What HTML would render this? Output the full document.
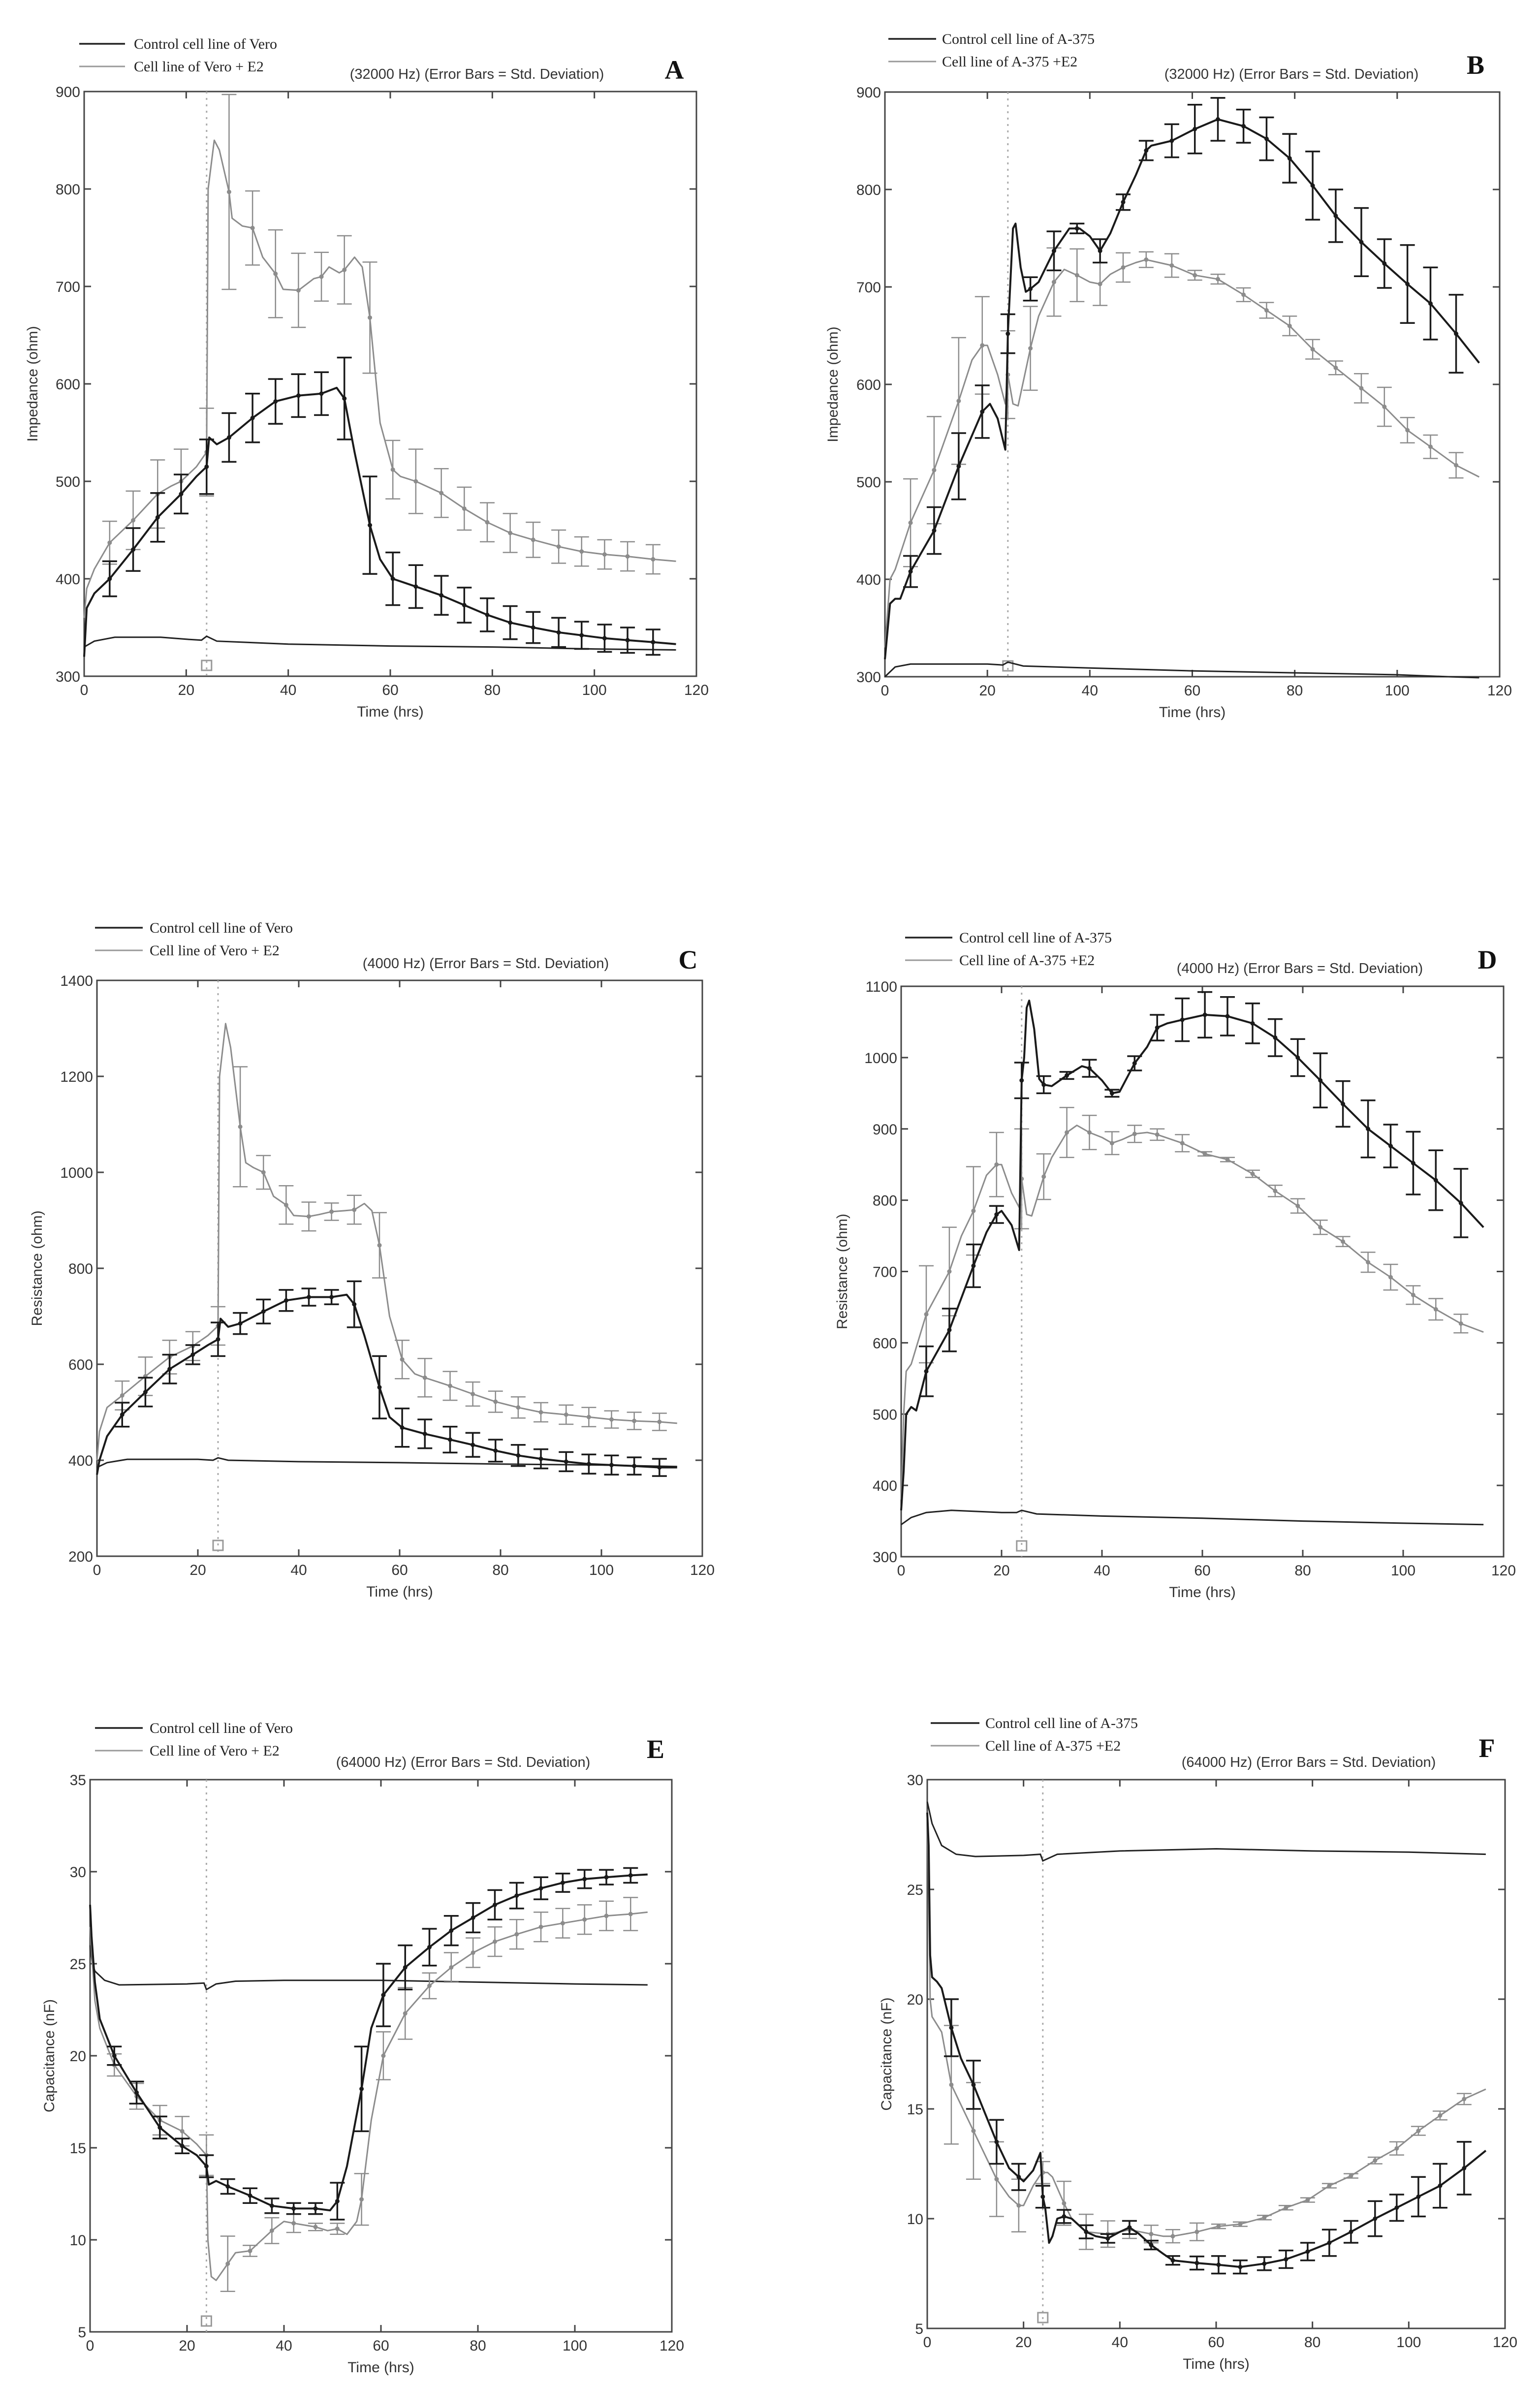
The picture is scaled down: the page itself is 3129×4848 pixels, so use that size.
<!DOCTYPE html>
<html><head><meta charset="utf-8"><title>Impedance, resistance and capacitance charts</title>
<style>
html,body{margin:0;padding:0;background:#fff;}
svg{display:block;}
.tick{font-family:"Liberation Sans",sans-serif;font-size:30px;fill:#333;}
.leg{font-family:"Liberation Serif",serif;font-size:30px;fill:#222;}
.ttl{font-family:"Liberation Sans",sans-serif;font-size:29px;fill:#333;}
.lbl{font-family:"Liberation Serif",serif;font-size:54px;font-weight:bold;fill:#111;}
</style></head>
<body>
<svg id="fig" width="3129" height="4848" viewBox="0 0 3129 4848" xmlns="http://www.w3.org/2000/svg"></svg>
<script>
// ---- shared error-bar times (hrs)
const tErr = [5,9.6,14.4,19,24,28.4,33,37.5,42,46.5,51,56,60.5,65,70,74.5,79,83.5,88,93,97.5,102,106.5,111.5];
const xTicks = [0,20,40,60,80,100,120];

// ---- Panel A (Impedance 32000 Hz, Vero)
const aT_black = [0,0.5,2,5,9.6,14.4,19,22,24,24.5,26,28.4,33,37.5,42,46.5,49.5,51,53,56,58,60.5,65,70,74.5,79,83.5,88,93,97.5,102,106.5,111.5,116];
const aV_black = [320,370,385,400,430,463,487,505,515,545,538,545,565,582,588,590,596,585,530,455,420,400,392,383,373,363,355,350,345,342,339,337,335,333];
const aSD_black = [18,22,25,20,28,25,25,23,22,22,42,50,27,22,20,18,17,17,16,15,14,14,13,13];
const aT_gray = [0,0.5,2,5,9.6,14.4,17,19,22,24,24.3,25.5,26.5,28.4,29,31,33,35,37.5,39,42,45,46.5,48,50,51,53,54.5,56,58,60.5,62,65,70,74.5,79,83.5,88,93,97.5,102,106.5,111.5,116];
const aV_gray = [360,390,410,437,460,487,495,500,515,530,800,850,840,797,770,762,760,730,713,697,696,708,710,720,714,717,730,720,668,560,512,505,500,488,472,458,447,440,433,428,425,423,420,418];
const aSD_gray = [22,30,35,33,45,100,38,45,38,25,35,57,30,33,25,22,20,20,18,17,15,15,15,15];
const aT_base = [0,2,6,15,20,23,24,26,40,60,80,100,116];
const aV_base = [330,336,340,340,338,337,341,336,333,331,330,328,327];
const aYTicks = [300,400,500,600,700,800,900];

// ---- Panel B (Impedance 32000 Hz, A-375)
const bT_black = [0,1,2,3,5,9.6,14.4,19,20.5,22,23.5,24,25,25.5,26.5,27.5,28.4,30,33,36,38,40,42,44,46.5,49,51,52,56,60.5,65,70,74.5,79,83.5,88,93,97.5,102,106.5,111.5,116];
const bV_black = [318,375,380,380,408,450,516,572,580,565,533,652,760,765,720,695,698,705,737,760,760,752,737,755,787,815,840,845,850,862,872,865,852,832,804,773,746,724,703,683,652,622];
const bSD_black = [16,24,34,27,20,12,20,5,12,8,10,17,25,22,17,22,25,35,27,35,25,40,37,40];
const bT_gray = [0,1,2,5,9.6,14.4,17,19,20,22,23.5,24,25,26,28.4,30,33,35,37.5,40,42,44,46.5,49,51,56,60.5,65,70,74.5,79,83.5,88,93,97.5,102,106.5,111.5,116];
const bV_gray = [330,400,410,458,512,583,625,640,640,610,580,610,580,578,637,670,705,718,712,705,703,713,720,725,728,722,712,708,692,676,660,636,617,596,577,553,536,517,505];
const bSD_gray = [45,55,65,50,45,43,35,27,22,15,8,12,5,5,7,8,10,10,7,15,20,13,12,13];
const bT_base = [0,2,5,20,23,24,27,40,60,80,100,110,116];
const bV_base = [300,310,313,313,312,315,311,309,306,304,302,300,299];
const bYTicks = [300,400,500,600,700,800,900];

// ---- Panel C (Resistance 4000 Hz, Vero)
const cT_black = [0,0.5,2,5,9.6,14.4,19,22,24,24.5,26,28.4,33,37.5,42,46.5,49.5,51,53,56,58,60.5,65,70,74.5,79,83.5,88,93,97.5,102,106.5,111.5,115];
const cV_black = [370,400,450,495,542,590,620,640,652,695,678,685,710,733,740,740,745,725,660,552,490,468,455,443,432,420,410,403,397,392,390,388,385,385];
const cSD_black = [25,30,30,20,35,22,25,22,18,15,48,65,40,30,27,25,23,22,20,20,20,20,18,18];
const cT_gray = [0,0.5,2,5,9.6,14.4,19,22,24,24.3,25.5,26.5,28.4,29.5,31,33,35,37.5,39,42,44,46.5,49,51,53,54.5,56,58,60.5,63,65,70,74.5,79,83.5,88,93,97.5,102,106.5,111.5,115];
const cV_gray = [400,460,510,535,575,615,638,660,680,1200,1310,1260,1095,1020,1010,1000,950,932,910,908,912,918,920,922,935,920,848,700,610,580,572,555,538,522,510,500,495,490,485,482,480,477];
const cSD_gray = [30,40,35,30,40,125,35,40,30,18,30,68,40,40,30,25,22,22,20,20,20,18,18,18];
const cT_base = [0,2,6,20,23,24,26,40,60,80,100,115];
const cV_base = [385,395,402,402,400,405,400,397,395,392,390,387];
const cYTicks = [200,400,600,800,1000,1200,1400];

// ---- Panel D (Resistance 4000 Hz, A-375)
const dT_black = [0,0.5,1,2,3,5,9.6,14.4,17,19,20,22,23.5,24,24.5,25,25.5,26.5,27.5,28.4,30,33,36,37.5,40,42,43.5,46.5,49,51,53,56,60.5,65,70,74.5,79,83.5,88,93,97.5,102,106.5,111.5,116];
const dV_black = [365,420,500,510,505,560,618,708,755,780,785,765,730,968,1000,1070,1080,1040,970,962,960,975,988,985,968,950,952,992,1015,1042,1048,1053,1060,1058,1048,1028,1000,968,935,900,876,852,828,796,762];
const dSD_black = [35,30,30,12,25,12,5,12,5,10,18,30,32,27,28,26,26,38,32,40,30,44,42,48];
const dT_gray = [0,0.5,1,2,5,9.6,12,14.4,17,19,20,22,23.5,24,25,26,28.4,30,33,35,37.5,40,42,44,46.5,49,51,56,60.5,65,70,74.5,79,83.5,88,93,97.5,102,106.5,111.5,116];
const dV_gray = [380,500,560,570,640,700,750,785,835,850,850,810,790,830,780,778,833,860,895,905,895,888,880,885,893,895,892,880,865,857,837,813,792,762,742,713,692,667,647,627,615];
const dSD_gray = [68,62,62,45,70,32,35,24,16,12,8,12,3,3,5,8,10,10,7,14,18,13,15,13];
const dT_base = [0,2,5,10,20,23,24,27,40,60,80,100,116];
const dV_base = [345,355,362,365,362,362,365,360,357,354,350,347,345];
const dYTicks = [300,400,500,600,700,800,900,1000,1100];

// ---- Panel E (Capacitance 64000 Hz, Vero)
const eT_black = [0,0.3,1,2,5,9.6,14.4,19,22,24,24.5,26,28.4,33,37.5,42,46.5,49.5,51,53,56,58,60.5,65,70,74.5,79,83.5,88,93,97.5,102,106.5,111.5,115];
const eV_black = [28.2,26.5,24,22,20,18,16.1,15.1,14.6,14.0,13.0,13.2,12.9,12.4,11.85,11.7,11.7,11.6,12.1,14,18.2,21.5,23.3,24.8,25.9,26.8,27.5,28.2,28.7,29.1,29.4,29.6,29.7,29.8,29.85];
const eSD_black = [0.5,0.6,0.6,0.4,0.6,0.4,0.4,0.4,0.3,0.3,1.0,2.3,1.7,1.2,1.0,0.8,0.8,0.8,0.7,0.6,0.5,0.5,0.4,0.4];
const eT_gray = [0,1,2,5,9.6,14.4,19,22,24,24.3,25,26,28.4,30,33,37.5,40,42,46.5,49,51,53,55,56,58,60.5,65,70,74.5,79,83.5,88,93,97.5,102,106.5,111.5,115];
const eV_gray = [27,23,21.5,19.5,17.8,16.5,15.9,15.2,14.6,10,8,7.8,8.7,9.3,9.4,10.5,11.0,10.9,10.7,10.5,10.6,10.3,11,12.2,16.5,20,22.3,23.8,24.8,25.6,26.2,26.6,27.0,27.2,27.4,27.6,27.7,27.8];
const eSD_gray = [0.6,0.7,0.8,0.8,1.1,1.5,0.3,0.7,0.5,0.2,0.3,1.4,1.3,1.4,0.7,0.8,0.8,0.8,0.8,0.8,0.8,0.8,0.8,0.9];
const eT_base = [0,0.5,1,3,6,20,23.5,24,26,30,40,60,80,100,115];
const eV_base = [26,25,24.6,24.1,23.85,23.9,23.95,23.6,23.9,24.05,24.1,24.1,24.0,23.9,23.85];
const eYTicks = [5,10,15,20,25,30,35];

// ---- Panel F (Capacitance 64000 Hz, A-375)
const fT_black = [0,0.3,0.6,1,2,3,5,7,9.6,14.4,17,19,20,22,23.5,24,24.5,25.3,26,27,28.4,30,33,35,37.5,40,42,44,46.5,49,51,56,60.5,65,70,74.5,79,83.5,88,93,97.5,102,106.5,111.5,116];
const fV_black = [28.5,27,22,21,20.8,20.5,18.7,17.3,16.1,13.5,12.3,11.9,11.7,12.2,13.0,11.0,10.5,8.9,9.2,10,10.1,10.0,9.4,9.2,9.1,9.4,9.6,9.3,8.8,8.4,8.1,7.98,7.9,7.8,7.95,8.15,8.5,8.9,9.4,10.0,10.5,11.0,11.5,12.3,13.1];
const fSD_black = [1.3,1.1,1.0,0.6,0.5,0.3,0.3,0.2,0.3,0.2,0.2,0.3,0.4,0.3,0.3,0.4,0.4,0.6,0.5,0.8,0.6,0.9,1.0,1.2];
const fT_gray = [0,0.3,0.6,1,3,5,9.6,14.4,17,19,20,22,23.5,24,25,26,28.4,30,33,37.5,40,42,46.5,49,51,56,60.5,65,70,74.5,79,83.5,88,93,97.5,102,106.5,111.5,116];
const fV_gray = [28.5,25,20,19.2,18.5,16.1,14.0,11.8,11.0,10.6,10.6,11.5,12.0,12.1,12.1,11.9,10.7,10.0,9.4,9.3,9.4,9.5,9.3,9.2,9.2,9.4,9.65,9.75,10.05,10.5,10.85,11.5,11.95,12.65,13.2,14.0,14.7,15.45,15.9];
const fSD_gray = [2.7,2.2,1.7,1.2,0.5,1.0,0.8,0.6,0.4,0.4,0.3,0.4,0.1,0.1,0.1,0.1,0.1,0.1,0.1,0.15,0.3,0.2,0.2,0.25];
const fT_base = [0,1,3,6,10,20,23.5,24,27,40,60,80,100,116];
const fV_base = [29,28,27,26.6,26.5,26.55,26.6,26.3,26.6,26.75,26.85,26.75,26.7,26.6];
const fYTicks = [5,10,15,20,25,30];

const NS = "http://www.w3.org/2000/svg";
const svg = document.getElementById('fig');
function mk(tag, attrs, parent) {
  const e = document.createElementNS(NS, tag);
  for (const k in attrs) e.setAttribute(k, attrs[k]);
  (parent || svg).appendChild(e);
  return e;
}
function interp(ts, vs, t) {
  if (t <= ts[0]) return vs[0];
  for (let i = 1; i < ts.length; i++) {
    if (t <= ts[i]) { const f = (t - ts[i-1]) / (ts[i] - ts[i-1]); return vs[i-1] + f * (vs[i] - vs[i-1]); }
  }
  return vs[vs.length - 1];
}

const panels = [
  {id:'a', L:171, R:1415, T:186, B:1374, yMin:300, yMax:900, yt:aYTicks, yLab:'Impedance (ohm)', yLabX:76,
   leg:['Control cell line of Vero','Cell line of Vero + E2'], legX1:161, legX2:254, legTX:272, legY:89, title:'(32000 Hz) (Error Bars = Std. Deviation)', titleX:969, titleY:160, L2:'A', lx:1370, ly:160,
   tb:aT_black, vb:aV_black, sb:aSD_black, tg:aT_gray, vg:aV_gray, sg:aSD_gray, t0:aT_base, v0:aV_base, sq:true},
  {id:'b', L:1798, R:3047, T:187, B:1375, yMin:300, yMax:900, yt:bYTicks, yLab:'Impedance (ohm)', yLabX:1702,
   leg:['Control cell line of A-375','Cell line of A-375 +E2'], legX1:1805, legX2:1902, legTX:1914, legY:79, title:'(32000 Hz) (Error Bars = Std. Deviation)', titleX:2624, titleY:160, L2:'B', lx:2998, ly:150,
   tb:bT_black, vb:bV_black, sb:bSD_black, tg:bT_gray, vg:bV_gray, sg:bSD_gray, t0:bT_base, v0:bV_base, sq:true},
  {id:'c', L:197, R:1427, T:1992, B:3162, yMin:200, yMax:1400, yt:cYTicks, yLab:'Resistance (ohm)', yLabX:85,
   leg:['Control cell line of Vero','Cell line of Vero + E2'], legX1:193, legX2:290, legTX:304, legY:1885, title:'(4000 Hz) (Error Bars = Std. Deviation)', titleX:987, titleY:1967, L2:'C', lx:1398, ly:1968,
   tb:cT_black, vb:cV_black, sb:cSD_black, tg:cT_gray, vg:cV_gray, sg:cSD_gray, t0:cT_base, v0:cV_base, sq:true},
  {id:'d', L:1831, R:3055, T:2004, B:3163, yMin:300, yMax:1100, yt:dYTicks, yLab:'Resistance (ohm)', yLabX:1721,
   leg:['Control cell line of A-375','Cell line of A-375 +E2'], legX1:1839, legX2:1935, legTX:1949, legY:1905, title:'(4000 Hz) (Error Bars = Std. Deviation)', titleX:2641, titleY:1977, L2:'D', lx:3022, ly:1968,
   tb:dT_black, vb:dV_black, sb:dSD_black, tg:dT_gray, vg:dV_gray, sg:dSD_gray, t0:dT_base, v0:dV_base, sq:true},
  {id:'e', L:183, R:1365, T:3616, B:4738, yMin:5, yMax:35, yt:eYTicks, yLab:'Capacitance (nF)', yLabX:110,
   leg:['Control cell line of Vero','Cell line of Vero + E2'], legX1:193, legX2:290, legTX:304, legY:3511, title:'(64000 Hz) (Error Bars = Std. Deviation)', titleX:941, titleY:3590, L2:'E', lx:1332, ly:3572,
   tb:eT_black, vb:eV_black, sb:eSD_black, tg:eT_gray, vg:eV_gray, sg:eSD_gray, t0:eT_base, v0:eV_base, sq:true},
  {id:'f', L:1884, R:3058, T:3616, B:4731, yMin:5, yMax:30, yt:fYTicks, yLab:'Capacitance (nF)', yLabX:1811,
   leg:['Control cell line of A-375','Cell line of A-375 +E2'], legX1:1891, legX2:1990, legTX:2002, legY:3501, title:'(64000 Hz) (Error Bars = Std. Deviation)', titleX:2659, titleY:3590, L2:'F', lx:3021, ly:3570,
   tb:fT_black, vb:fV_black, sb:fSD_black, tg:fT_gray, vg:fV_gray, sg:fSD_gray, t0:fT_base, v0:fV_base, sq:true}
];

panels.forEach(p => {
  const g = mk('g', {});
  
  
  const X = t => p.L + (t / 120) * (p.R - p.L);
  const Y = v => p.B - (v - p.yMin) / (p.yMax - p.yMin) * (p.B - p.T);

  // legend
  const lg = mk('g', {}, g);
  
  
  [['#222', 3.5], ['#999', 3]].forEach((st, i) => {
    const y = p.legY + i * 46;
    const ln = mk('line', {x1:p.legX1, x2:p.legX2, y1:y, y2:y, stroke:st[0], 'stroke-width':st[1]}, lg);
    
    
    const tx = mk('text', {x:p.legTX, y:y + 10, class:'leg'}, lg);
    tx.textContent = p.leg[i];
    
    
  });
  const tt = mk('text', {x:p.titleX, y:p.titleY, class:'ttl', 'text-anchor':'middle'}, g);
  tt.textContent = p.title;
  
  
  const pl = mk('text', {x:p.lx, y:p.ly, class:'lbl', 'text-anchor':'middle'}, g);
  pl.textContent = p.L2;
  
  

  // axes box
  const box = mk('rect', {x:p.L, y:p.T, width:p.R - p.L, height:p.B - p.T, fill:'none', stroke:'#444', 'stroke-width':3}, g);
  
  

  xTicks.forEach(t => {
    const x = X(t);
    mk('line', {x1:x, x2:x, y1:p.B, y2:p.B - 14, stroke:'#444', 'stroke-width':3}, g);
    mk('line', {x1:x, x2:x, y1:p.T, y2:p.T + 14, stroke:'#444', 'stroke-width':3}, g);
    const tx = mk('text', {x:x, y:p.B + 38, class:'tick', 'text-anchor':'middle'}, g);
    tx.textContent = t;
    
    
  });
  p.yt.forEach(v => {
    const y = Y(v);
    mk('line', {x1:p.L, x2:p.L + 14, y1:y, y2:y, stroke:'#444', 'stroke-width':3}, g);
    mk('line', {x1:p.R, x2:p.R - 14, y1:y, y2:y, stroke:'#444', 'stroke-width':3}, g);
    const tx = mk('text', {x:p.L - 8, y:y + 11, class:'tick', 'text-anchor':'end'}, g);
    tx.textContent = v;
    
    
  });
  const xl = mk('text', {x:(p.L + p.R) / 2, y:p.B + 82, class:'tick', 'text-anchor':'middle'}, g);
  xl.textContent = 'Time (hrs)';
  
  
  const yc = (p.T + p.B) / 2;
  const yl = mk('text', {x:p.yLabX, y:yc, class:'tick', 'text-anchor':'middle', transform:'rotate(-90 ' + p.yLabX + ' ' + yc + ')'}, g);
  yl.textContent = p.yLab;
  
  

  // vertical dotted marker at t=24
  const vl = mk('line', {x1:X(24), x2:X(24), y1:p.T, y2:p.B, stroke:'#aaa', 'stroke-width':3, 'stroke-dasharray':'4 9'}, g);
  
  
  const sq = mk('rect', {x:X(24) - 10, y:p.B - 32, width:20, height:20, fill:'none', stroke:'#999', 'stroke-width':3}, g);
  
  

  const path = (ts, vs) => ts.map((t, i) => (i ? 'L' : 'M') + X(t).toFixed(1) + ',' + Y(vs[i]).toFixed(1)).join(' ');

  // baseline
  const bl = mk('path', {d:path(p.t0, p.v0), fill:'none', stroke:'#222', 'stroke-width':3}, g);
  
  

  [['gray', p.tg, p.vg, p.sg, '#8c8c8c', 3], ['black', p.tb, p.vb, p.sb, '#1a1a1a', 4]].forEach(s => {
    const sg = mk('g', {}, g);
    
    
    const ln = mk('path', {d:path(s[1], s[2]), fill:'none', stroke:s[4], 'stroke-width':s[5], 'stroke-linejoin':'round'}, sg);
    
    
    tErr.forEach((t, i) => {
      const m = interp(s[1], s[2], t), sd = s[3][i];
      const x = X(t), y1 = Y(m - sd), y2 = Y(m + sd);
      const eb = mk('path', {d:'M' + x + ',' + y1 + ' L' + x + ',' + y2 + ' M' + (x - 15) + ',' + y1 + ' L' + (x + 15) + ',' + y1 + ' M' + (x - 15) + ',' + y2 + ' L' + (x + 15) + ',' + y2, stroke:s[4], 'stroke-width':s[5] - 0.5, fill:'none'}, sg);
      
      
      const c = mk('circle', {cx:x, cy:Y(m), r:4.5, fill:s[4]}, sg);
      
      
    });
  });
});
</script>
</body></html>
